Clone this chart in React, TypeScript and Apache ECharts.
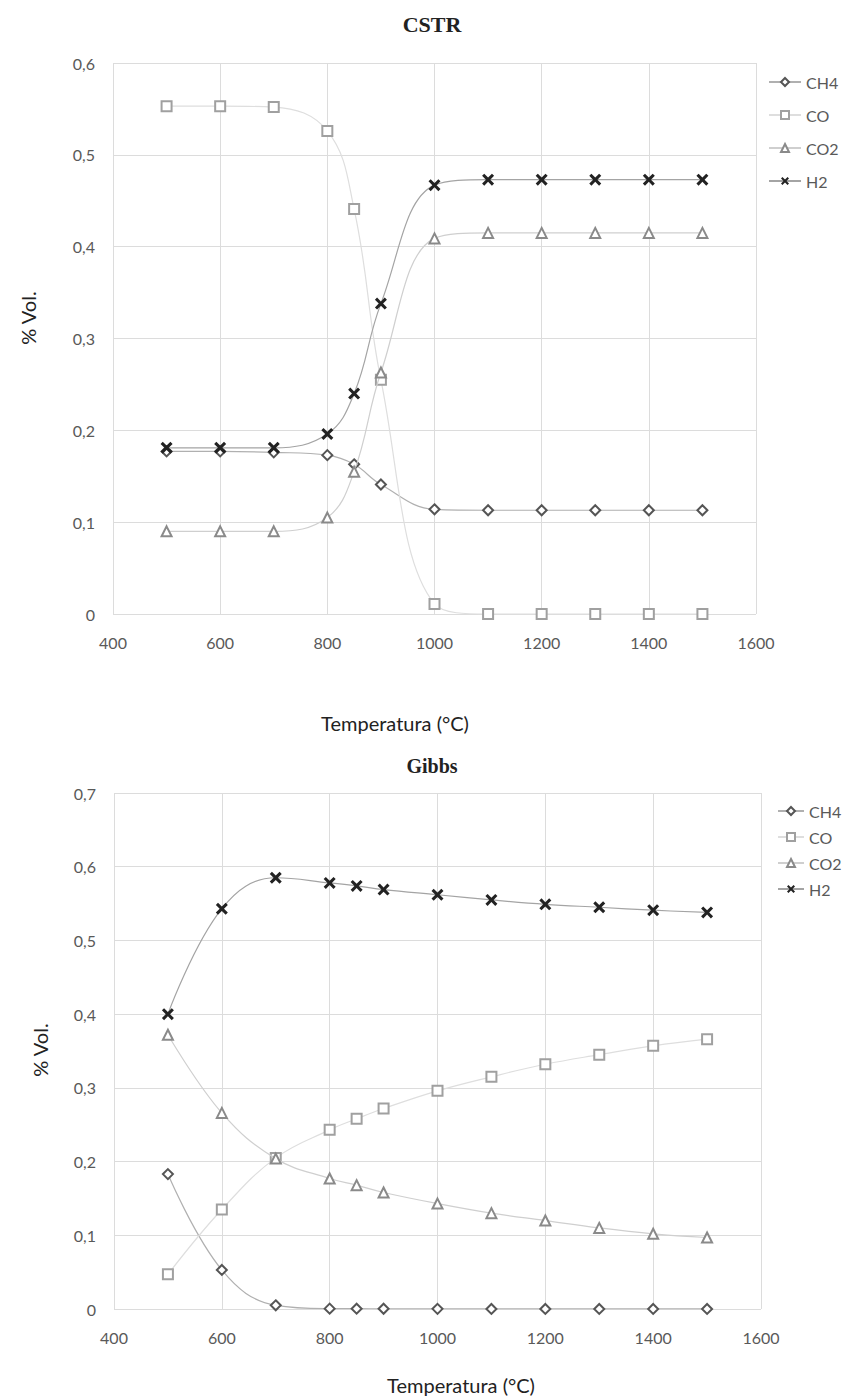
import React, { useEffect, useRef } from 'react';
import * as echarts from 'echarts';

// ---- data ----
const temps = [500, 600, 700, 800, 850, 900, 1000, 1100, 1200, 1300, 1400, 1500];
const speciesNames = ['CH4', 'CO', 'CO2', 'H2'];

const cstrCH4 = [0.177, 0.177, 0.176, 0.173, 0.163, 0.141, 0.114, 0.113, 0.113, 0.113, 0.113, 0.113];
const cstrCO = [0.553, 0.553, 0.552, 0.526, 0.441, 0.255, 0.011, 0.0, 0.0, 0.0, 0.0, 0.0];
const cstrCO2 = [0.09, 0.09, 0.09, 0.105, 0.155, 0.263, 0.409, 0.415, 0.415, 0.415, 0.415, 0.415];
const cstrH2 = [0.181, 0.181, 0.181, 0.196, 0.24, 0.338, 0.467, 0.473, 0.473, 0.473, 0.473, 0.473];

const gibbsCH4 = [0.183, 0.053, 0.005, 0.0005, 0.0004, 0.0003, 0.0002, 0.0001, 0.0001, 0.0001, 0.0001, 0.0001];
const gibbsCO = [0.047, 0.135, 0.205, 0.243, 0.258, 0.272, 0.296, 0.315, 0.332, 0.345, 0.357, 0.366];
const gibbsCO2 = [0.372, 0.266, 0.204, 0.177, 0.168, 0.158, 0.143, 0.13, 0.12, 0.11, 0.102, 0.097];
const gibbsH2 = [0.4, 0.543, 0.585, 0.578, 0.574, 0.569, 0.562, 0.555, 0.549, 0.545, 0.541, 0.538];

const cstrSeries = [cstrCH4, cstrCO, cstrCO2, cstrH2];
const gibbsSeries = [gibbsCH4, gibbsCO, gibbsCO2, gibbsH2];

const chartTitles = ['CSTR', 'Gibbs'];
const xAxisTitle = 'Temperatura (°C)';
const yAxisTitle = '% Vol.';

// ---- styles ----
const FONT = 'Lato, "Open Sans", sans-serif';
const GRID_COLOR = '#dcdcdc';
const TEXT_COLOR = '#595959';
const X_PATH = 'path://M0,1.8L1.8,0L5,3.2L8.2,0L10,1.8L6.8,5L10,8.2L8.2,10L5,6.8L1.8,10L0,8.2L3.2,5Z';

const seriesStyles = [
  { symbol: 'diamond', size: 10, fill: '#ffffff', border: '#555555', bw: 2, line: '#b0b0b0' },
  { symbol: 'rect', size: 10, fill: '#ffffff', border: '#a0a0a0', bw: 2, line: '#dedede' },
  { symbol: 'triangle', size: 10, fill: '#ffffff', border: '#8a8a8a', bw: 2, line: '#cfcfcf' },
  { symbol: X_PATH, size: 12, fill: '#222222', border: '#222222', bw: 0, line: '#a4a4a4' },
];

const fmtY = (v: number) => (Math.abs(v) < 1e-9 ? '0' : v.toFixed(1).replace('.', ','));
const fmtX = (v: number) => String(Math.round(v));

export default function App() {
  const ref = useRef<HTMLDivElement>(null);

  useEffect(() => {
    if (!ref.current) return;
    const chart = echarts.init(ref.current, undefined, { renderer: 'svg' });

    const grids = [
      { left: 113, width: 643, top: 63, height: 551 },
      { left: 114, width: 647, top: 793, height: 516 },
    ];
    const yMax = [0.6, 0.7];

    const xAxes = grids.map((_, gi) => ({
      type: 'value',
      gridIndex: gi,
      min: 400,
      max: 1600,
      interval: 200,
      axisLine: { show: false },
      axisTick: { show: false },
      axisLabel: { color: TEXT_COLOR, fontFamily: FONT, fontSize: 16, margin: 20, formatter: fmtX },
      splitLine: { show: true, lineStyle: { color: GRID_COLOR, width: 1 } },
    }));
    const yAxes = grids.map((_, gi) => ({
      type: 'value',
      gridIndex: gi,
      min: 0,
      max: yMax[gi],
      interval: 0.1,
      axisLine: { show: false },
      axisTick: { show: false },
      axisLabel: { color: TEXT_COLOR, fontFamily: FONT, fontSize: 16, margin: 18, formatter: fmtY },
      splitLine: { show: true, lineStyle: { color: GRID_COLOR, width: 1 } },
    }));

    const series: any[] = [];
    [cstrSeries, gibbsSeries].forEach((set, gi) => {
      set.forEach((vals, si) => {
        const st = seriesStyles[si];
        series.push({
          type: 'line',
          name: speciesNames[si],
          xAxisIndex: gi,
          yAxisIndex: gi,
          data: temps.map((t, i) => [t, vals[i]]),
          smooth: 0.4,
          symbol: st.symbol,
          symbolSize: st.size,
          showAllSymbol: true,
          lineStyle: { color: st.line, width: 1.2 },
          itemStyle: { color: st.fill, borderColor: st.border, borderWidth: st.bw },
          z: 2 + si,
        });
      });
    });

    const legendCommon = {
      orient: 'vertical',
      padding: 0,
      data: speciesNames,
      textStyle: { color: TEXT_COLOR, fontFamily: FONT, fontSize: 16, lineHeight: 20 },
      itemHeight: 10,
      selectedMode: false,
    };

    const textEl = (x: number, y: number, text: string, font: string, rotation = 0) => ({
      type: 'text',
      x,
      y,
      rotation,
      style: { text, font, fill: '#222', align: 'center', verticalAlign: 'middle' },
    });

    chart.setOption({
      animation: false,
      backgroundColor: '#ffffff',
      grid: grids,
      xAxis: xAxes,
      yAxis: yAxes,
      legend: [
        { ...legendCommon, left: 768, top: 72, itemWidth: 32, itemGap: 13 },
        { ...legendCommon, left: 777, top: 801, itemWidth: 26, itemGap: 6 },
      ],
      series,
      graphic: [
        textEl(432, 24, chartTitles[0], 'bold 22px "Liberation Serif", serif'),
        textEl(432, 766, chartTitles[1], 'bold 20px "Liberation Serif", serif'),
        textEl(395, 723, xAxisTitle, '20px ' + FONT),
        textEl(461, 1385, xAxisTitle, '20px ' + FONT),
        textEl(28, 318, yAxisTitle, '20px ' + FONT, Math.PI / 2),
        textEl(40, 1050, yAxisTitle, '20px ' + FONT, Math.PI / 2),
      ],
    });

    return () => chart.dispose();
  }, []);

  return (
    <div
      ref={ref}
      style={{ position: 'absolute', left: 0, top: 0, width: 843, height: 1398, background: '#fff' }}
    />
  );
}
